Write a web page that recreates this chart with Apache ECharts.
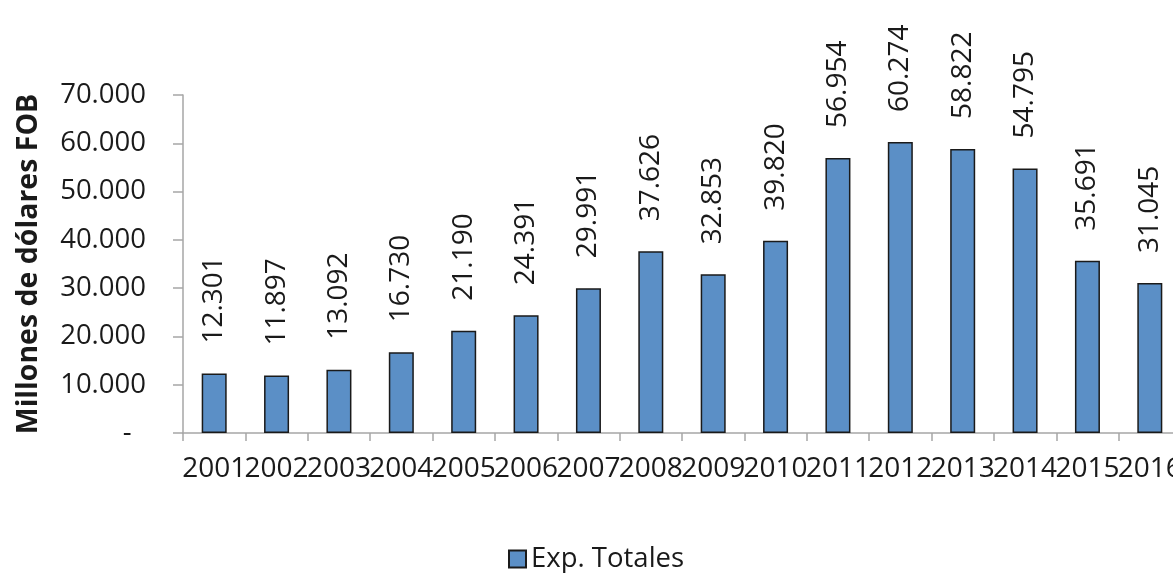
<!DOCTYPE html>
<html>
<head>
<meta charset="utf-8">
<script src="https://cdn.jsdelivr.net/npm/echarts@6/dist/echarts.min.js"></script>
<style>
html,body{margin:0;padding:0;background:#fff;}
#c{width:1173px;height:573px;}
</style>
</head>
<body>
<div id="c"></div>
<script>
const categories = ['2001','2002','2003','2004','2005','2006','2007','2008','2009','2010','2011','2012','2013','2014','2015','2016'];
const expTotales = [12301, 11897, 13092, 16730, 21190, 24391, 29991, 37626, 32853, 39820, 56954, 60274, 58822, 54795, 35691, 31045];
const seriesName = 'Exp. Totales';
const yAxisTitle = 'Millones de dólares FOB';

function fmt(v){
  if (v === 0) return '-  ';
  return String(v).replace(/\B(?=(\d{3})+(?!\d))/g, '.');
}

const chart = echarts.init(document.getElementById('c'));
const FONT = 'Open Sans';
const TXT = '#1a1a1a';
chart.setOption({
  animation: false,
  textStyle: { fontFamily: FONT },
  grid: { left: 183, top: 95, width: 998, height: 338, outerBoundsMode: 'none', containLabel: false },
  legend: {
    top: 540, left: 503,
    icon: 'rect',
    itemWidth: 17, itemHeight: 17, itemGap: 8,
    textStyle: { fontFamily: FONT, fontSize: 27.5, color: TXT },
    data: [seriesName]
  },
  xAxis: {
    type: 'category',
    data: categories,
    axisLine: { lineStyle: { color: '#a6a6a6', width: 1.5 } },
    axisTick: { show: true, alignWithLabel: false, length: 8, lineStyle: { color: '#a6a6a6', width: 1.5 } },
    axisLabel: { interval: 0, margin: 22, fontSize: 28, color: TXT, fontFamily: FONT }
  },
  yAxis: {
    type: 'value',
    min: 0, max: 70000, interval: 10000,
    name: yAxisTitle,
    nameLocation: 'middle',
    nameGap: 140,
    nameRotate: 90,
    nameTextStyle: { fontFamily: FONT, fontSize: 28.5, fontWeight: 'bold', color: TXT },
    splitLine: { show: false },
    axisLine: { show: true, lineStyle: { color: '#a6a6a6', width: 1.5 } },
    axisTick: { show: true, length: 10, lineStyle: { color: '#a6a6a6', width: 1.5 } },
    axisLabel: { margin: 37, fontSize: 27.5, color: TXT, fontFamily: FONT, formatter: fmt }
  },
  series: [{
    name: seriesName,
    type: 'bar',
    data: expTotales,
    barWidth: 25,
    itemStyle: { color: '#5b8fc6', borderColor: '#1a1a1a', borderWidth: 1.5 },
    label: {
      show: true,
      position: 'top',
      rotate: 90,
      align: 'left',
      verticalAlign: 'middle',
      distance: 30,
      fontSize: 28,
      color: TXT,
      fontFamily: FONT,
      formatter: p => fmt(p.value)
    }
  }]
});
</script>
</body>
</html>
